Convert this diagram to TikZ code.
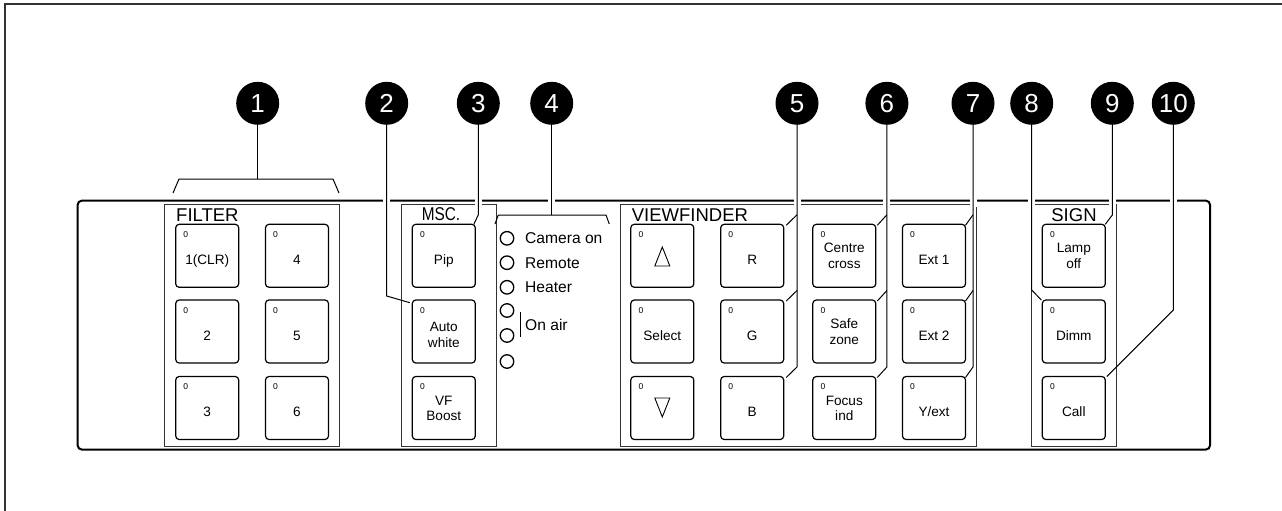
\documentclass[tikz,border=0pt]{standalone}
\usepackage{fontspec}
\setmainfont{Liberation Sans}
\usetikzlibrary{calc}
\newcommand\kbtn[4]{%
  \node[btn] (#1) at (#2,#3) {};
  \node[zero] at ($(#1.north west)+(7.5,13)$) {0};
  \node[btxt] at ($(#1.center)+(0,8.5)$) {#4};}
\newcommand\kbtnb[6]{%
  \node[btn] (#1) at (#2,#3) {};
  \node[zero] at ($(#1.north west)+(7.5,13)$) {0};
  \node[btxt] at ($(#1.center)+(0,#6)$) {#4};
  \node[btxt] at ($(#1.center)+(0,#6+15.8)$) {#5};}
\begin{document}
\begin{tikzpicture}[x=1pt,y=-1pt,
  btn/.style={draw, line width=1.2pt, rounded corners=3.5pt, minimum width=63pt, minimum height=63pt, inner sep=0pt, outer sep=0pt},
  btxt/.style={anchor=base, font=\fontsize{13.6}{15}\selectfont, inner sep=0pt},
  zero/.style={anchor=base west, font=\fontsize{8.5}{9}\selectfont, inner sep=0pt},
  grp/.style={draw=black!80, line width=1pt},
  glabel/.style={font=\fontsize{18.5}{20}\selectfont, inner sep=0pt},
  num/.style={circle, fill=black, minimum size=43pt, inner sep=0pt, text=white, font=\fontsize{26}{28}\selectfont},
  leader/.style={line width=1pt},
  halo/.style={white, line width=7pt},
  led/.style={circle, draw, line width=1.3pt, minimum size=13.5pt, inner sep=0pt},
  ltxt/.style={anchor=base west, font=\fontsize{15.6}{17}\selectfont, inner sep=0pt}
]
\useasboundingbox (0,0) rectangle (1282,511);
% outer frame
\draw[line width=1.5pt, black!80] (5,511) -- (5,4) -- (1282,4);
% panel
\draw[line width=2pt, rounded corners=4pt] (77.7,200.7) rectangle (1210,449.5);
% group boxes
\draw[grp] (164.5,204) rectangle (339.3,446);
\draw[grp] (401,204) rectangle (496,446);
\draw[grp] (620.7,204) rectangle (976,446);
\draw[grp] (1031.7,204) rectangle (1116,446);
% numbered circles
\node[num] (c1) at (257.7,103.3) {1};
\node[num] (c2) at (386.7,103.3) {2};
\node[num] (c3) at (478.3,103.3) {3};
\node[num] (c4) at (551.7,103.3) {4};
\node[num] (c5) at (797,103.3) {5};
\node[num] (c6) at (886.9,103.3) {6};
\node[num] (c7) at (973,103.3) {7};
\node[num] (c8) at (1031.7,103.3) {8};
\node[num] (c9) at (1112.3,103.3) {9};
\node[num] (c10) at (1173.3,103.3) {10};
% halos where leaders cross the panel edge
\coordinate (htop) at (0,196);
\coordinate (hbot) at (0,207);
\foreach \c in {c2,c3,c4,c5,c6,c7,c8,c9,c10}
  \draw[halo] (\c |- htop) -- (\c |- hbot);
% group labels
\node[glabel, anchor=base west] at (176,221) {FILTER};
\node[glabel, anchor=base] at (441,220.5) {\scalebox{0.83}[1]{MSC.}};
\node[glabel, anchor=base west] at (631.7,221) {VIEWFINDER};
\node[glabel, anchor=base] at (1074,221) {SIGN};
% FILTER
\kbtn{f1}{207.2}{255.8}{1(CLR)}
\kbtn{f2}{207.2}{331.5}{2}
\kbtn{f3}{207.2}{408}{3}
\kbtn{f4}{297}{255.8}{4}
\kbtn{f5}{297}{331.5}{5}
\kbtn{f6}{297}{408}{6}
% MSC
\kbtn{pip}{443.8}{255.8}{Pip}
\kbtnb{aw}{443.8}{331.5}{Auto}{white}{0}
\kbtnb{vfb}{443.8}{408}{VF}{Boost}{-3}
% VIEWFINDER
\kbtn{up}{662.3}{255.8}{}
\kbtn{sel}{662.3}{331.5}{Select}
\kbtn{dn}{662.3}{408}{}
\draw[line width=0.9pt, line join=miter] ($(up.center)+(0,-8.8)$) -- ($(up.center)+(-7.5,10.2)$) -- ($(up.center)+(7.5,10.2)$) -- cycle;
\draw[line width=0.9pt, line join=miter] ($(dn.center)+(0,9)$) -- ($(dn.center)+(-7.5,-10)$) -- ($(dn.center)+(7.5,-10)$) -- cycle;
\kbtn{bR}{752.2}{255.8}{R}
\kbtn{bG}{752.2}{331.5}{G}
\kbtn{bB}{752.2}{408}{B}
\kbtnb{cc}{844.3}{255.8}{Centre}{cross}{-3}
\kbtnb{sz}{844.3}{331.5}{Safe}{zone}{-3}
\kbtnb{fi}{844.3}{408}{Focus}{ind}{-3}
\kbtn{e1}{934}{255.8}{Ext 1}
\kbtn{e2}{934}{331.5}{Ext 2}
\kbtn{ye}{934}{408}{Y/ext}
% SIGN
\kbtnb{lo}{1073.8}{255.8}{Lamp}{off}{-3}
\kbtn{dim}{1073.8}{331.5}{Dimm}
\kbtn{call}{1073.8}{408}{Call}
% indicators
\node[led] (l1) at (507,238.3) {};
\node[led] (l2) at (507,262.7) {};
\node[led] (l3) at (507,287.3) {};
\node[led] (l4) at (507,310.5) {};
\node[led] (l5) at (507,335.5) {};
\node[led] (l6) at (507,361.5) {};
\node[ltxt] at ($(l1.center)+(18,5.6)$) {Camera on};
\node[ltxt] at ($(l2.center)+(18,5.6)$) {Remote};
\node[ltxt] at ($(l3.center)+(18,5.6)$) {Heater};
\node[ltxt] at (525,330.6) {On air};
\draw[line width=1.2pt] (520.7,311.7) -- (520.7,337.3);
% brackets
\coordinate (b1) at (257.7,179);
\draw[leader] (173,193) -- (179,179) -- (333,179) -- (339,193);
\coordinate (b4) at (551.7,215);
\draw[leader] (495,224) -- (498.3,215) -- (606,215) -- (609.3,224);
% leaders
\draw[leader] (c1.south) -- (b1);
\draw[leader] (c2.south) -- ($(c2.south |- aw.north west)+(0,-4)$) -- ($(aw.north west)+(-2.5,2.7)$);
\draw[leader] (c3.south) -- ($(c3.south |- pip.north east)+(0,-9.5)$) -- ($(pip.north east)+(-1.5,0)$);
\draw[leader] (c4.south) -- (b4);
\draw[leader] (c5.south) -- ($(c5.south |- bB.north east)+(0,-9.5)$) -- ($(bB.north east)+(2.5,1)$);
\draw[leader] ($(c5.south |- bR.north east)+(0,-9.5)$) -- ($(bR.north east)+(2.5,1)$);
\draw[leader] ($(c5.south |- bG.north east)+(0,-9.5)$) -- ($(bG.north east)+(2.5,1)$);
\draw[leader] (c6.south) -- ($(c6.south |- fi.north east)+(0,-9.5)$) -- ($(fi.north east)+(1.5,1)$);
\draw[leader] ($(c6.south |- cc.north east)+(0,-9.5)$) -- ($(cc.north east)+(1.5,1)$);
\draw[leader] ($(c6.south |- sz.north east)+(0,-9.5)$) -- ($(sz.north east)+(1.5,1)$);
\draw[leader] (c7.south) -- ($(c7.south |- ye.north east)+(0,-9.5)$) -- ($(ye.north east)+(0,1)$);
\draw[leader] ($(c7.south |- e1.north east)+(0,-9.5)$) -- ($(e1.north east)+(0,1)$);
\draw[leader] ($(c7.south |- e2.north east)+(0,-9.5)$) -- ($(e2.north east)+(0,1)$);
\draw[leader] (c8.south) -- ($(c8.south |- dim.north west)+(0,-10)$) -- ($(dim.north west)+(-1,0)$);
\draw[leader] (c9.south) -- ($(c9.south |- lo.north east)+(0,-9.3)$) -- (lo.north east);
\draw[leader] (c10.south) -- ($(c10.south |- call.north east)+(0,-66.5)$) -- ($(call.north east)+(1.5,0)$);
\end{tikzpicture}
\end{document}
